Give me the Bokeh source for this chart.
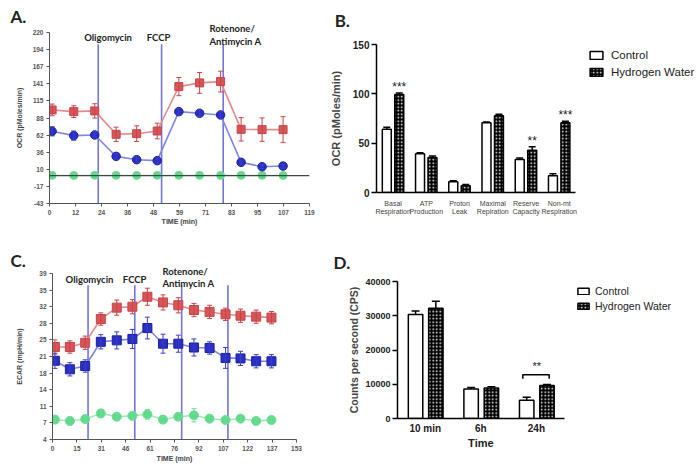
import numpy as np
from bokeh.plotting import figure
from bokeh.models import (Range1d, FixedTicker, Label, Span, Whisker, ColumnDataSource,
                          TeeHead, Legend, LegendItem)
from bokeh.layouts import column, row
from bokeh.embed import file_html
from bokeh.resources import INLINE

# ---------------- Panel A: OCR time course ----------------
A_time = [1.2, 11.1, 20.7, 30.5, 39.9, 49.3, 59.2, 68.7, 78.3, 87.7, 97.3, 106.9]
A_red = [100.9, 98.3, 99.4, 63.4, 64.4, 68.5, 136.8, 142.5, 144.5, 71.1, 70.6, 70.6]
A_red_err = [9, 9, 11, 11, 12, 12, 14, 16, 16, 18, 18, 20]
A_blue = [68.0, 61.4, 62.4, 29.5, 24.4, 22.9, 98.3, 95.8, 93.2, 20.3, 13.6, 14.6]
A_blue_err = [7, 7, 5, 4, 4, 4, 5, 5, 5, 4, 3, 3]
A_green = [0.3, 0.2, 0.4, 0.3, 0.2, 0.3, 0.4, 0.3, 0.2, 0.3, 0.3, 0.2]
A_inject = [22.3, 51.3, 79.5]
INJ_NAMES = ["Oligomycin", "FCCP", "Rotenone/", "Antimycin A"]
A_xtick_labels = ["0", "12", "24", "36", "48", "59", "71", "83", "95", "107", "119"]
A_ytick_labels = ["-43", "-17", "10", "36", "62", "88", "115", "141", "167", "194", "220"]

# ---------------- Panel B: respiration parameters ----------------
B_cats = ["Basal\nRespiration", "ATP\nProduction", "Proton\nLeak", "Maximal\nRepiration",
          "Reserve\nCapacity", "Non-mt\nRespiration"]
B_ctrl = [64.2, 39.2, 10.8, 70.6, 33.4, 16.9]
B_ctrl_err = [2.0, 1.0, 1.0, 0.8, 1.5, 2.0]
B_hw = [99.3, 35.5, 6.8, 77.7, 42.9, 70.6]
B_hw_err = [1.5, 1.5, 1.2, 1.5, 3.5, 1.5]
B_sig = ["***", "", "", "", "**", "***"]
B_yticks = [0, 50, 100, 150]

# ---------------- Panel C: ECAR time course ----------------
C_time = [1.5, 10.9, 20.5, 30.3, 40.3, 50.1, 59.5, 69.3, 78.9, 88.7, 98.5, 108.5, 117.9, 127.7, 137.3]
C_red = [23.5, 23.5, 24.4, 29.4, 31.8, 32.0, 34.1, 32.9, 32.3, 31.3, 30.9, 30.4, 30.1, 29.9, 29.7]
C_red_err = [1.5, 1.3, 1.4, 1.3, 1.6, 1.5, 1.8, 1.6, 1.6, 1.4, 1.4, 1.3, 1.4, 1.4, 1.3]
C_blue = [20.6, 18.8, 19.5, 24.6, 24.9, 25.2, 27.5, 24.2, 24.2, 23.4, 23.3, 21.2, 21.1, 20.5, 20.5]
C_blue_err = [1.6, 1.4, 1.3, 1.5, 1.8, 2.0, 2.3, 2.0, 1.8, 1.8, 1.3, 2.2, 1.5, 1.4, 1.4]
C_green = [8.2, 7.9, 8.3, 9.5, 8.8, 9.0, 9.3, 8.2, 8.8, 9.1, 8.4, 8.1, 8.4, 7.9, 8.1]
C_green_err = [0.8, 0.8, 0.7, 0.8, 0.7, 0.8, 1.0, 0.8, 0.8, 1.4, 0.7, 0.7, 0.6, 0.6, 0.6]
C_inject = [22.3, 51.6, 81.0, 110.0]
C_xtick_labels = ["0", "15", "31", "46", "61", "76", "92", "107", "122", "137", "153"]
C_ytick_labels = ["4", "7", "11", "14", "18", "21", "25", "28", "32", "35", "39"]

# ---------------- Panel D: counts per second ----------------
D_cats = ["10 min", "6h", "24h"]
D_ctrl = [30400, 8600, 5300]
D_ctrl_err = [1000, 450, 900]
D_hw = [32200, 8900, 9600]
D_hw_err = [2000, 350, 300]
D_yticks = [0, 10000, 20000, 30000, 40000]

RED, RED_L, RED_E = "#d65558", "#e58a8c", "#c94448"
BLUE, BLUE_L, BLUE_E = "#2b30c4", "#8084e2", "#3a3fcc"
GREEN, GREEN_L, GREEN_E = "#5ddb8a", "#9ae8b6", "#6fdc95"
INJ = "#7474da"
TICKF = "Liberation Sans"
ANNF = "Lato"


def base_fig(w, h, xr, yr, left, right, top, bottom):
    p = figure(width=w, height=h, x_range=xr, y_range=yr, output_backend="svg",
               toolbar_location=None, min_border_left=left, min_border_right=right,
               min_border_top=top, min_border_bottom=bottom)
    try:
        p.frame_align = False
    except Exception:
        pass
    p.outline_line_color = None
    p.xgrid.visible = False
    p.ygrid.visible = False
    p.background_fill_color = "white"
    p.border_fill_color = "white"
    return p


def err(p, x, y, e, color, size=5, width=1.0, lower=True):
    src = ColumnDataSource(dict(base=x, upper=[a + b for a, b in zip(y, e)],
                                lower=[a - b for a, b in zip(y, e)] if lower else list(y)))
    w = Whisker(source=src, base="base", upper="upper", lower="lower",
                line_color=color, line_width=width,
                upper_head=TeeHead(size=size, line_color=color, line_width=width),
                lower_head=TeeHead(size=size, line_color=color, line_width=width) if lower else None)
    w.level = "glyph"
    p.add_layout(w)


def style_small_axes(p, xlab, ylab):
    for ax in (p.xaxis[0], p.yaxis[0]):
        ax.axis_line_color = "#555555"
        ax.major_tick_line_color = "#555555"
        ax.minor_tick_line_color = None
        ax.major_tick_out = 3
        ax.major_tick_in = 0
        ax.major_label_text_font = TICKF
        ax.major_label_text_font_style = "bold"
        ax.major_label_text_font_size = "6.5px"
        ax.major_label_text_color = "#555555"
        ax.major_label_standoff = 3
        ax.axis_label_text_font = TICKF
        ax.axis_label_text_font_style = "bold"
        ax.axis_label_text_font_size = "7px"
        ax.axis_label_text_color = "#444444"
        ax.axis_label_standoff = 4
    p.xaxis.axis_label = xlab
    p.yaxis.axis_label = ylab


def ticks_from_labels(labels, lo, hi):
    pos = [round(v, 4) for v in np.linspace(lo, hi, len(labels))]
    return pos, dict(zip(pos, labels))


def ann(p, x, y, text, size="10px", align="center", baseline="middle", font=ANNF,
        style="bold", color="#222222", place=None):
    lab = Label(x=x, y=y, text=text, text_font=font, text_font_style=style,
                text_font_size=size, text_align=align, text_baseline=baseline,
                text_color=color)
    if place is None:
        p.add_layout(lab)
    else:
        p.add_layout(lab, place)


# ======================= A =======================
pA = base_fig(326, 236, Range1d(0, 119), Range1d(-43, 220), 49, 17, 31, 33)
style_small_axes(pA, "TIME (min)", "OCR (pMoles/min)")
pA.yaxis.axis_label_standoff = 7
pA.xaxis.axis_label_standoff = 0
xt, xo = ticks_from_labels(A_xtick_labels, 0, 119)
pA.xaxis.ticker = FixedTicker(ticks=xt)
pA.xaxis.major_label_overrides = xo
yt, yo = ticks_from_labels(A_ytick_labels, -43, 220)
pA.yaxis.ticker = FixedTicker(ticks=yt)
pA.yaxis.major_label_overrides = yo
pA.add_layout(Span(location=0, dimension="width", line_color="#444444", line_width=1.3))
pA.segment(x0=A_inject, y0=[-43] * 3, x1=A_inject, y1=[202] * 3, line_color=INJ, line_width=1.6)
pA.line(A_time, A_green, line_color=GREEN_L, line_width=1.2)
pA.line(A_time, A_red, line_color=RED_L, line_width=1.6)
pA.line(A_time, A_blue, line_color=BLUE_L, line_width=1.6)
err(pA, A_time, A_red, A_red_err, RED_E, size=5)
err(pA, A_time, A_blue, A_blue_err, BLUE_E, size=5)
pA.scatter(A_time, A_green, marker="circle", size=8, fill_color=GREEN, line_color=GREEN_E)
pA.scatter(A_time, A_red, marker="square", size=8, fill_color=RED, line_color=RED_E)
pA.scatter(A_time, A_blue, marker="circle", size=8.5, fill_color=BLUE, line_color="#1c2099")
ann(pA, -17.9, 244.5, "A.", size="17px", align="left", place="above")
ann(pA, 26.8, 213, INJ_NAMES[0], size="9.5px")
ann(pA, 49.9, 213, INJ_NAMES[1], size="9.5px")
ann(pA, 73.2, 226.6, INJ_NAMES[2], size="9.5px", align="left", place="above")
ann(pA, 73.2, 206.2, INJ_NAMES[3], size="9.5px", align="left")

# ======================= B =======================
B_left, B_w = 49, 372
B_frame_w = B_w - B_left
B_xmax = len(B_cats) * B_frame_w / 200.0
pB = base_fig(B_w, 236, Range1d(0, B_xmax), Range1d(0, 150), B_left, 0, 44, 44)
nB = len(B_cats)
xc = [i + 0.31 for i in range(nB)]
xh = [i + 0.685 for i in range(nB)]
err(pB, xc, B_ctrl, B_ctrl_err, "black", size=7, width=1.5, lower=False)
err(pB, xh, B_hw, B_hw_err, "black", size=7, width=1.5, lower=False)
rc = pB.vbar(x=xc, top=B_ctrl, width=0.27, fill_color="white", line_color="black", line_width=1.5)
rh = pB.vbar(x=xh, top=B_hw, width=0.27, fill_color="black", line_color="black", line_width=1.5,
             hatch_pattern="dot", hatch_color="white", hatch_scale=3.5, hatch_weight=1.4)
for i, s in enumerate(B_sig):
    if s:
        ann(pB, xh[i], B_hw[i] + B_hw_err[i] + 6, s, size="12px", font=TICKF, style="normal")
yax = pB.yaxis[0]
yax.ticker = FixedTicker(ticks=B_yticks)
xax = pB.xaxis[0]
xax.ticker = FixedTicker(ticks=[i + 0.5 for i in range(nB)])
xax.major_label_overrides = {i + 0.5: c for i, c in enumerate(B_cats)}
xax.bounds = (0, nB)
for ax in (xax, yax):
    ax.axis_line_color = "black"
    ax.axis_line_width = 1.5
    ax.major_tick_line_color = "black"
    ax.major_tick_line_width = 1.5
    ax.minor_tick_line_color = None
    ax.major_tick_out = 5
    ax.major_tick_in = 0
    ax.major_label_text_font = TICKF
yax.major_label_text_font_style = "bold"
yax.major_label_text_font_size = "10px"
yax.major_label_text_color = "#222222"
yax.major_label_standoff = 2
yax.axis_label = "OCR (pMoles/min)"
yax.axis_label_text_font = TICKF
yax.axis_label_text_font_style = "bold"
yax.axis_label_text_font_size = "11px"
yax.axis_label_standoff = 8
xax.major_tick_line_color = None
xax.major_tick_out = 0
xax.major_label_text_font_size = "7px"
xax.major_label_text_color = "#444444"
xax.major_label_standoff = 7
legB = Legend(items=[LegendItem(label="Control", renderers=[rc]),
                     LegendItem(label="Hydrogen Water", renderers=[rh])],
              location=(212, 112), padding=0, margin=0, spacing=0,
              glyph_width=16, glyph_height=10, label_height=17, label_standoff=7,
              label_text_font=TICKF, label_text_font_size="11.5px", label_text_color="#222222",
              border_line_color=None, background_fill_alpha=0)
pB.add_layout(legB)
ann(pB, -1.26, 174.3, "B.", size="17px", align="left", place="above")

# ======================= C =======================
pC = base_fig(326, 228, Range1d(0, 153), Range1d(4, 39), 52, 30, 37, 25)
style_small_axes(pC, "TIME (min)", "ECAR (mpH/min)")
xt, xo = ticks_from_labels(C_xtick_labels, 0, 153)
pC.xaxis.ticker = FixedTicker(ticks=xt)
pC.xaxis.major_label_overrides = xo
yt, yo = ticks_from_labels(C_ytick_labels, 4, 39)
pC.yaxis.ticker = FixedTicker(ticks=yt)
pC.yaxis.major_label_overrides = yo
pC.xaxis.axis_label_standoff = 1
pC.yaxis.axis_label_standoff = 13
pC.segment(x0=C_inject, y0=[4] * 4, x1=C_inject, y1=[36.5] * 4, line_color=INJ, line_width=1.6)
pC.line(C_time, C_green, line_color=GREEN_L, line_width=1.4)
pC.line(C_time, C_red, line_color=RED_L, line_width=1.6)
pC.line(C_time, C_blue, line_color=BLUE_L, line_width=1.6)
err(pC, C_time, C_green, C_green_err, GREEN_E, size=5)
err(pC, C_time, C_red, C_red_err, RED_E, size=5)
err(pC, C_time, C_blue, C_blue_err, BLUE_E, size=5)
pC.scatter(C_time, C_green, marker="circle", size=9, fill_color=GREEN, line_color=GREEN_E)
pC.scatter(C_time, C_red, marker="square", size=9, fill_color=RED, line_color=RED_E)
pC.scatter(C_time, C_blue, marker="square", size=9, fill_color=BLUE, line_color="#1c2099")
ann(pC, -26.3, 41.7, "C.", size="17px", align="left", place="above")
ann(pC, 23.2, 37.7, INJ_NAMES[0], size="9.5px")
ann(pC, 51.5, 37.7, INJ_NAMES[1], size="9.5px")
ann(pC, 68.9, 39.5, INJ_NAMES[2], size="9.5px", align="left", place="above")
ann(pC, 68.9, 36.8, INJ_NAMES[3], size="9.5px", align="left")

# ======================= D =======================
D_left, D_w = 71, 372
D_frame_w = D_w - D_left
D_xmax = len(D_cats) * D_frame_w / 166.7
pD = base_fig(D_w, 228, Range1d(0, D_xmax), Range1d(0, 40000), D_left, 0, 45, 46)
nD = len(D_cats)
dxc = [i + 0.325 for i in range(nD)]
dxh = [i + 0.69 for i in range(nD)]
err(pD, dxc, D_ctrl, D_ctrl_err, "black", size=8, width=1.5, lower=False)
err(pD, dxh, D_hw, D_hw_err, "black", size=8, width=1.5, lower=False)
drc = pD.vbar(x=dxc, top=D_ctrl, width=0.26, fill_color="white", line_color="black", line_width=1.5)
drh = pD.vbar(x=dxh, top=D_hw, width=0.26, fill_color="black", line_color="black", line_width=1.5,
              hatch_pattern="dot", hatch_color="white", hatch_scale=3.5, hatch_weight=1.4)
bi = 2
by = max(D_ctrl[bi] + D_ctrl_err[bi], D_hw[bi] + D_hw_err[bi]) + 2900
pD.multi_line(xs=[[dxc[bi] - 0.07, dxc[bi] - 0.07, dxh[bi] + 0.04, dxh[bi] + 0.04]],
              ys=[[by - 1200, by, by, by - 1200]], line_color="black", line_width=1.5)
ann(pD, (dxc[bi] + dxh[bi]) / 2, by + 2400, "**", size="11px", font=TICKF, style="normal")
yax = pD.yaxis[0]
yax.ticker = FixedTicker(ticks=D_yticks)
xax = pD.xaxis[0]
xax.ticker = FixedTicker(ticks=[i + 0.5 for i in range(nD)])
xax.major_label_overrides = {i + 0.5: c for i, c in enumerate(D_cats)}
xax.bounds = (0, nD)
for ax in (xax, yax):
    ax.axis_line_color = "black"
    ax.axis_line_width = 1.5
    ax.major_tick_line_color = "black"
    ax.major_tick_line_width = 1.5
    ax.minor_tick_line_color = None
    ax.major_tick_out = 5
    ax.major_tick_in = 0
    ax.major_label_text_font = TICKF
    ax.major_label_text_font_style = "bold"
    ax.major_label_text_color = "#222222"
    ax.axis_label_text_font = TICKF
    ax.axis_label_text_font_style = "bold"
    ax.axis_label_text_font_size = "11px"
yax.major_label_text_font_size = "9px"
yax.major_label_standoff = 2
yax.axis_label = "Counts per second (CPS)"
yax.axis_label_text_font_size = "10.5px"
yax.axis_label_standoff = 2
xax.major_tick_line_color = None
xax.major_tick_out = 0
xax.major_label_text_font_size = "10px"
xax.major_label_standoff = 4
# x-axis title centred under the axis extent (the frame is wider than the axis)
ann(pD, nD / 2, -7200, "Time", size="11px", font=TICKF, color="#222222", place="below")
legD = Legend(items=[LegendItem(label="Control", renderers=[drc]),
                     LegendItem(label="Hydrogen Water", renderers=[drh])],
              location=(179, 105), padding=0, margin=0, spacing=0,
              glyph_width=14, glyph_height=8, label_height=15, label_standoff=5,
              label_text_font=TICKF, label_text_font_size="10.5px", label_text_color="#222222",
              border_line_color=None, background_fill_alpha=0)
pD.add_layout(legD)
ann(pD, -1.15, 45535, "D.", size="17px", align="left", place="above")

layout = column(row(pA, pB), row(pC, pD))
open("out.html", "w").write(file_html(layout, INLINE))
